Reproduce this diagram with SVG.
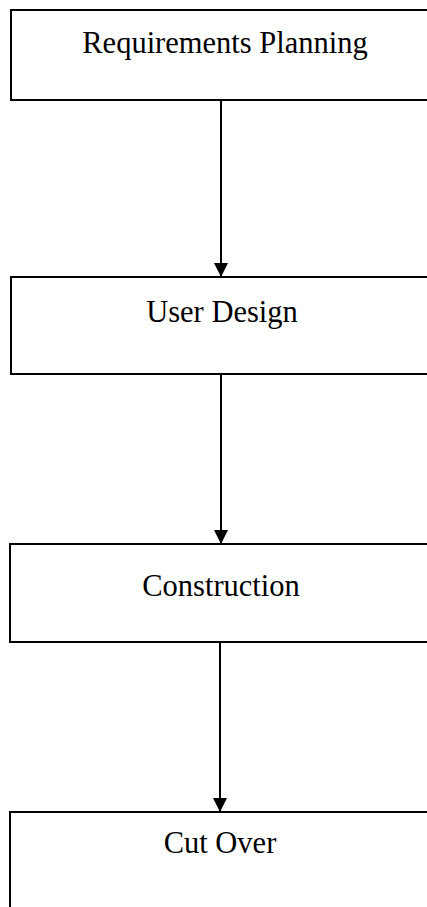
<svg xmlns="http://www.w3.org/2000/svg" width="427" height="907" viewBox="0 0 427 907">
  <style>
    .box { fill: #ffffff; stroke: #000000; stroke-width: 2; }
    .label { font-family: "Liberation Serif", "Times New Roman", serif; font-size: 30.5px; fill: #000000; text-anchor: middle; }
    .link { stroke: #000000; stroke-width: 2; fill: none; marker-end: url(#arrow); }
  </style>
  <defs>
    <marker id="arrow" markerUnits="userSpaceOnUse" markerWidth="16" markerHeight="14" refX="14" refY="7" orient="auto">
      <path d="M0,0 L14,7 L0,14 Z" fill="#000000"/>
    </marker>
  </defs>
  <rect width="427" height="907" fill="#ffffff"/>

  <g id="requirements-planning">
    <rect class="box" x="11" y="10" width="430" height="90"/>
    <text class="label" x="225" y="53">Requirements Planning</text>
  </g>
  <g id="user-design">
    <rect class="box" x="11" y="277" width="430" height="97"/>
    <text class="label" x="222" y="322">User Design</text>
  </g>
  <g id="construction">
    <rect class="box" x="10" y="544" width="431" height="98"/>
    <text class="label" x="221" y="596">Construction</text>
  </g>
  <g id="cut-over">
    <rect class="box" x="10" y="812" width="431" height="110"/>
    <text class="label" x="220" y="853">Cut Over</text>
  </g>

  <g id="connectors">
    <line class="link" x1="221" y1="101" x2="221" y2="277"/>
    <line class="link" x1="221" y1="375" x2="221" y2="544"/>
    <line class="link" x1="220" y1="643" x2="220" y2="812"/>
  </g>
</svg>
